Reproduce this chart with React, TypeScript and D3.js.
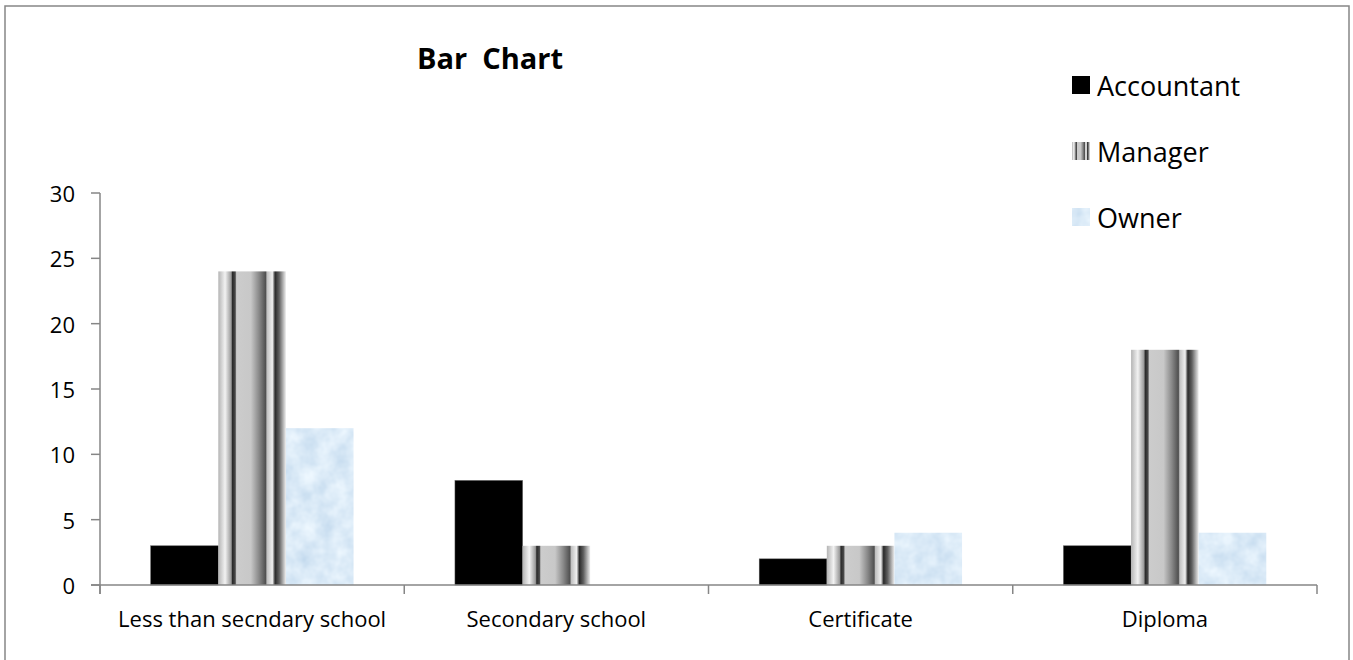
import React from "react";
import * as d3 from "d3";

const categories = ["Less than secndary school", "Secondary school", "Certificate", "Diploma"];
const seriesNames = ["Accountant", "Manager", "Owner"];
const accountant = [3, 8, 2, 3];
const manager = [24, 3, 3, 18];
const owner = [12, 0, 4, 4];
const yTicks = [0, 5, 10, 15, 20, 25, 30];
const titleText = "Bar  Chart";

const W = 1353;
const H = 660;
const FONT = "'Open Sans', 'Noto Sans', sans-serif";
const AXIS = "#868686";

const mgrStops: [number, string][] = [
  [0, "#b4b4b4"], [0.1, "#f2f2f2"], [0.19, "#9a9a9a"], [0.21, "#2a2a2a"], [0.25, "#4a4a4a"],
  [0.27, "#cccccc"], [0.48, "#c8c8c8"], [0.6, "#8a8a8a"], [0.7, "#505050"], [0.72, "#c0c0c0"],
  [0.8, "#efefef"], [0.84, "#2a2a2a"], [0.9, "#606060"], [1, "#eeeeee"],
];

export default function App() {
  const margin = { left: 100, right: 1317, top: 193, bottom: 585 };
  const x0 = d3.scaleBand<string>().domain(categories).range([margin.left, margin.right]).paddingInner(0).paddingOuter(0);
  const x1 = d3.scaleBand<string>().domain(seriesNames).range([0, x0.bandwidth()]).paddingInner(0).paddingOuter(0.75);
  const y = d3.scaleLinear().domain([0, 30]).range([margin.bottom, margin.top]);

  const values: Record<string, number[]> = { Accountant: accountant, Manager: manager, Owner: owner };
  const fills: Record<string, string> = { Accountant: "#000000", Manager: "url(#mgrGrad)", Owner: "#dae8f6" };

  const boundaries = [...categories.map((c) => x0(c) as number), margin.right];

  return (
    <svg width={W} height={H} style={{ position: "absolute", left: 0, top: 0, background: "#fff" }}>
      <defs>
        <linearGradient id="mgrGrad" x1="0" x2="1" y1="0" y2="0">
          {mgrStops.map(([o, c], i) => (
            <stop key={i} offset={o} stopColor={c} />
          ))}
        </linearGradient>
        <filter id="tex" x="0" y="0" width="1" height="1" colorInterpolationFilters="sRGB">
          <feTurbulence type="fractalNoise" baseFrequency="0.06" numOctaves={3} seed={4} result="noise" />
          <feColorMatrix
            in="noise"
            type="matrix"
            values="0 0 0 0.2 0.76  0 0 0 0.14 0.85  0 0 0 0.08 0.93  0 0 0 0 1"
            result="col"
          />
          <feComposite in="col" in2="SourceGraphic" operator="in" />
        </filter>
      </defs>
      <rect x={5} y={6} width={1344} height={680} fill="#fff" stroke={AXIS} strokeWidth={1.5} />

      <text
        x={490}
        y={57}
        textAnchor="middle"
        dominantBaseline="central"
        fontFamily={FONT}
        fontWeight="bold"
        fontSize={29}
        style={{ whiteSpace: "pre" }}
      >
        {titleText}
      </text>

      {/* bars */}
      {seriesNames.map((s) =>
        categories.map((c, i) => {
          const v = values[s][i];
          if (v <= 0) return null;
          const bx = (x0(c) as number) + (x1(s) as number);
          const by = y(v);
          return (
            <rect
              key={s + c}
              x={bx}
              y={by}
              width={x1.bandwidth()}
              height={y(0) - by}
              fill={fills[s]}
              filter={s === "Owner" ? "url(#tex)" : undefined}
              stroke={s === "Accountant" ? "#555" : "none"}
              strokeWidth={s === "Accountant" ? 0.5 : 0}
            />
          );
        })
      )}

      {/* y axis */}
      <line x1={margin.left} x2={margin.left} y1={margin.top} y2={margin.bottom + 9} stroke={AXIS} strokeWidth={1.5} />
      {yTicks.map((t) => (
        <g key={t}>
          <line x1={margin.left - 9} x2={margin.left} y1={y(t)} y2={y(t)} stroke={AXIS} strokeWidth={1.5} />
          <text x={75} y={y(t)} textAnchor="end" dominantBaseline="central" fontFamily={FONT} fontSize={22} fill="#000">
            {t}
          </text>
        </g>
      ))}

      {/* x axis */}
      <line x1={margin.left - 9} x2={margin.right} y1={margin.bottom} y2={margin.bottom} stroke={AXIS} strokeWidth={1.5} />
      {boundaries.map((b, i) => (
        <line key={i} x1={b} x2={b} y1={margin.bottom} y2={margin.bottom + 9} stroke={AXIS} strokeWidth={1.5} />
      ))}
      {categories.map((c) => (
        <text
          key={c}
          x={(x0(c) as number) + x0.bandwidth() / 2}
          y={618}
          textAnchor="middle"
          dominantBaseline="central"
          fontFamily={FONT}
          fontSize={22}
          fill="#000"
        >
          {c}
        </text>
      ))}

      {/* legend */}
      {seriesNames.map((s, i) => {
        const cy = 85 + i * 66;
        return (
          <g key={s}>
            <rect
              x={1072}
              y={cy - 9}
              width={18}
              height={18}
              fill={fills[s]}
              filter={s === "Owner" ? "url(#tex)" : undefined}
            />
            <text x={1097} y={cy} dominantBaseline="central" fontFamily={FONT} fontSize={27} fill="#000">
              {s}
            </text>
          </g>
        );
      })}
    </svg>
  );
}
